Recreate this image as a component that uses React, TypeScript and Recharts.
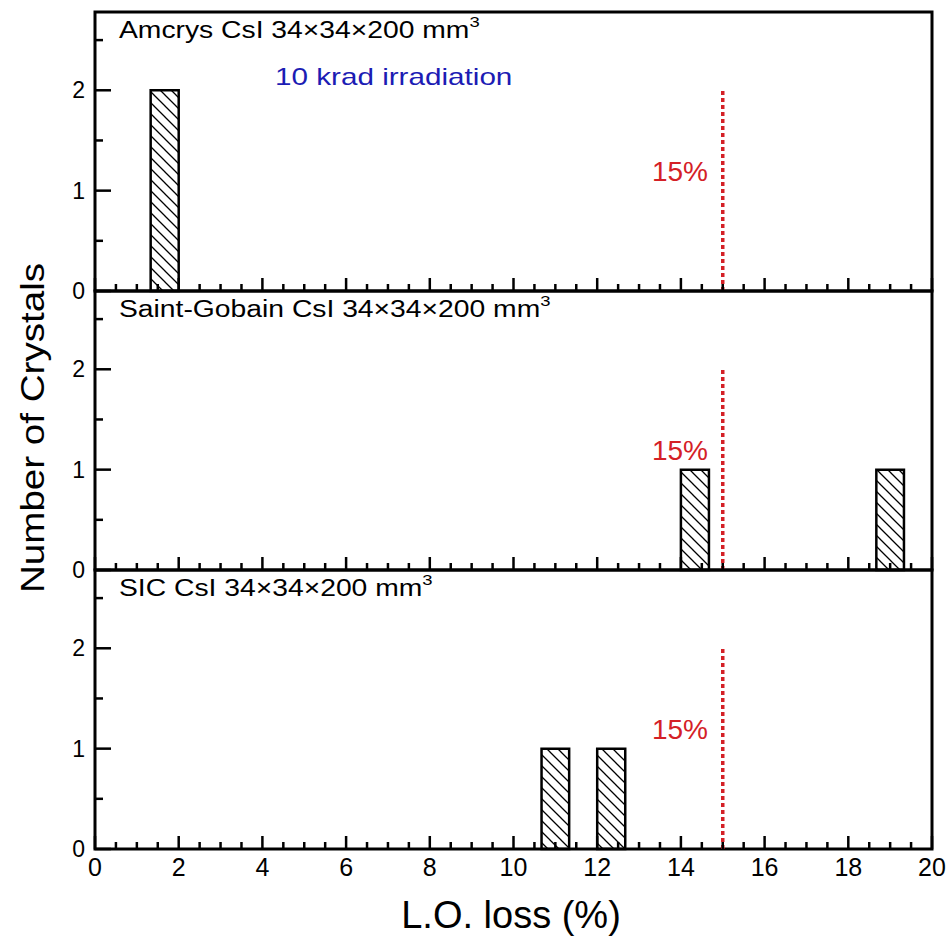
import { ComposedChart, XAxis, YAxis, ReferenceArea, ReferenceLine } from 'recharts'

const FONT = '"Liberation Sans", Arial, Helvetica, sans-serif'

// histogram bins (L.O. loss %, bin edges and crystal counts)
const amcrysBins = [{ lo: 1.33, hi: 2.0, n: 2 }]
const saintGobainBins = [
  { lo: 14.0, hi: 14.67, n: 1 },
  { lo: 18.67, hi: 19.33, n: 1 },
]
const sicBins = [
  { lo: 10.67, hi: 11.33, n: 1 },
  { lo: 12.0, hi: 12.67, n: 1 },
]
const panelNames = ['Amcrys CsI 34×34×200 mm', 'Saint-Gobain CsI 34×34×200 mm', 'SIC CsI 34×34×200 mm']
const panelBins = [amcrysBins, saintGobainBins, sicBins]

const xTicks = [0, 0.5, 1, 1.5, 2, 2.5, 3, 3.5, 4, 4.5, 5, 5.5, 6, 6.5, 7, 7.5, 8, 8.5, 9, 9.5, 10, 10.5, 11, 11.5, 12, 12.5, 13, 13.5, 14, 14.5, 15, 15.5, 16, 16.5, 17, 17.5, 18, 18.5, 19, 19.5, 20]
const yTicks = [0, 0.5, 1, 1.5, 2, 2.5]
const threshold = 15
const thresholdTop = 2
const yMax = 2.78

const PANEL_TOP = 12
const PANEL_H = 279
const PLOT_LEFT = 95
const PLOT_W = 837

function XTick(props: any) {
  const { x, y, payload, showLabels } = props
  const v = payload.value
  const major = v % 2 === 0
  return (
    <g>
      <line x1={x} y1={y} x2={x} y2={y - (major ? 13 : 7)} stroke="#000" strokeWidth={2.5} />
      {showLabels && major && (
        <text x={x} y={y + 27} textAnchor="middle" fontSize={25} fontFamily={FONT} fill="#000">
          {v}
        </text>
      )}
    </g>
  )
}

function YTick(props: any) {
  const { x, y, payload } = props
  const v = payload.value
  const major = Number.isInteger(v)
  return (
    <g>
      <line x1={x} y1={y} x2={x + (major ? 16 : 8)} y2={y} stroke="#000" strokeWidth={2.5} />
      {major && (
        <text x={x - 10} y={y} textAnchor="end" dominantBaseline="central" fontSize={23} fontFamily={FONT} fill="#000">
          {v}
        </text>
      )}
    </g>
  )
}

function Panel({ index }: { index: number }) {
  const bins = panelBins[index]
  const top = PANEL_TOP + PANEL_H * index
  const data = bins.map((b) => ({ x: b.lo, n: b.n }))
  return (
    <div style={{ position: 'absolute', left: 0, top: top - 5 }}>
      <ComposedChart
        width={951}
        height={PANEL_H + 70}
        margin={{ top: 5, right: 951 - PLOT_LEFT - PLOT_W, bottom: 64, left: PLOT_LEFT - 1 }}
        data={data}
      >
        <XAxis
          type="number"
          dataKey="x"
          domain={[0, 20]}
          ticks={xTicks}
          interval={0}
          height={1}
          tickSize={0}
          tickMargin={0}
          axisLine={false}
          tickLine={false}
          tick={<XTick showLabels={index === 2} />}
          allowDataOverflow
        />
        <YAxis
          type="number"
          domain={[0, yMax]}
          ticks={yTicks}
          interval={0}
          width={1}
          tickSize={0}
          tickMargin={0}
          axisLine={false}
          tickLine={false}
          tick={<YTick />}
          allowDataOverflow
        />
        {bins.map((b, i) => (
          <ReferenceArea
            key={i}
            x1={b.lo}
            x2={b.hi}
            y1={0}
            y2={b.n}
            fill="url(#hatch)"
            fillOpacity={1}
            stroke="#000"
            strokeWidth={2.5}
            ifOverflow="visible"
          />
        ))}
        <ReferenceLine
          segment={[
            { x: threshold, y: 0 },
            { x: threshold, y: thresholdTop },
          ]}
          stroke="#d42026"
          strokeWidth={3.5}
          strokeDasharray="4 3"
          ifOverflow="visible"
        />
        <ReferenceArea x1={0} x2={20} y1={0} y2={yMax} fill="none" stroke="#000" strokeWidth={3} ifOverflow="visible" />
      </ComposedChart>
    </div>
  )
}

export default function App() {
  return (
    <div style={{ position: 'absolute', left: 0, top: 0, width: 951, height: 938, background: '#fff', fontFamily: FONT }}>
      <svg width={951} height={938} style={{ position: 'absolute', left: 0, top: 0 }}>
        <defs>
          <pattern id="hatch" patternUnits="userSpaceOnUse" width={11} height={11}>
            <rect width={11} height={11} fill="#fff" />
            <path d="M-5.5,-5.5 L16.5,16.5 M-5.5,5.5 L5.5,16.5 M5.5,-5.5 L16.5,5.5" stroke="#000" strokeWidth={1.3} />
          </pattern>
        </defs>
        {panelNames.map((name, i) => {
          const top = PANEL_TOP + PANEL_H * i
          const zero = top + PANEL_H
          return (
            <g key={i}>
              <text transform={`translate(119, ${top + 26}) scale(1.23, 1)`} fontSize={23} fontFamily={FONT} fill="#000">
                {name}
                <tspan fontSize={15} dy={-11}>3</tspan>
              </text>
              <text x={708} y={zero - 110} textAnchor="end" fontSize={28} fontFamily={FONT} fill="#d42026">
                15%
              </text>
            </g>
          )
        })}
        <text transform="translate(275, 85) scale(1.29, 1)" fontSize={23} fontFamily={FONT} fill="#1c1cb4">
          10 krad irradiation
        </text>
        <text x={511} y={928} textAnchor="middle" fontSize={38} fontFamily={FONT} fill="#000">
          L.O. loss (%)
        </text>
        <text
          transform="translate(44, 428) rotate(-90)"
          textAnchor="middle"
          fontSize={33}
          fontFamily={FONT}
          fill="#000"
          textLength={330}
          lengthAdjust="spacingAndGlyphs"
        >
          Number of Crystals
        </text>
      </svg>
      {panelNames.map((_, i) => (
        <Panel key={i} index={i} />
      ))}
    </div>
  )
}
